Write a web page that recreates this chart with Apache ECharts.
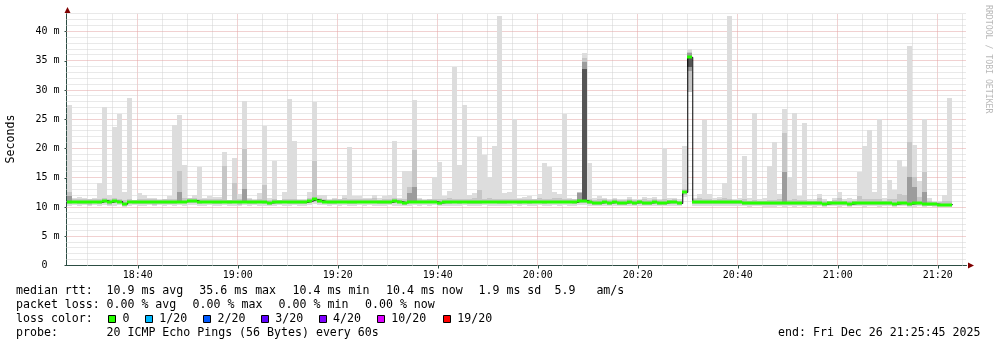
<!DOCTYPE html>
<html><head><meta charset="utf-8">
<script src="https://cdn.jsdelivr.net/npm/echarts@6/dist/echarts.min.js"></script>
<style>html,body{margin:0;padding:0;background:#fff}#c{width:997px;height:347px}</style>
</head><body><div id="c"></div>
<script>
// x values are minutes after 18:00
const axisStart = 25.75;   // 18:25:45
const axisEnd = 205.75;    // 21:25:45
const firstSample = 26;    // 18:26
const stepMinutes = 1;
const yMax = 43.1;

const median = [
10.9,10.9,10.8,10.8,10.8,10.9,10.8,11.1,10.8,11.0,
10.9,10.5,10.9,10.8,10.8,10.8,10.8,10.8,10.8,10.8,
10.8,10.8,10.9,10.9,11.1,11.1,10.8,10.9,10.9,10.8,
10.8,10.9,10.8,10.9,10.8,10.9,10.8,10.8,10.9,10.8,
10.7,10.8,10.8,10.9,10.8,10.8,10.8,10.8,11.0,11.3,
11.1,10.9,10.8,10.8,10.9,10.9,10.8,10.8,10.9,10.9,
10.9,10.9,10.8,10.8,10.8,11.0,10.9,10.7,10.9,10.9,
10.9,10.9,10.9,10.9,10.7,10.8,10.8,10.9,10.8,10.9,
10.8,10.8,10.8,10.9,10.9,10.9,10.8,10.8,10.9,10.9,
10.8,10.9,10.8,10.9,10.9,10.8,10.9,10.9,10.9,10.9,
10.9,10.8,11.1,11.1,10.8,10.7,10.7,10.8,10.7,10.8,
10.7,10.7,10.8,10.7,10.8,10.7,10.7,10.8,10.7,10.7,
10.8,10.8,10.6,12.5,35.6,10.8,10.8,10.8,10.8,10.8,
10.8,10.8,10.8,10.8,10.8,10.7,10.6,10.6,10.7,10.6,
10.6,10.6,10.6,10.7,10.6,10.6,10.7,10.6,10.6,10.6,
10.6,10.5,10.6,10.7,10.6,10.6,10.5,10.6,10.7,10.6,
10.6,10.7,10.6,10.6,10.6,10.5,10.6,10.6,10.5,10.6,
10.6,10.5,10.5,10.5,10.4,10.4,10.4
];
const pingMin = [
10.2,10.3,10.1,10.3,10.1,10.3,10.2,10.3,10.1,10.2,
10.3,10.0,10.2,10.3,10.2,10.2,10.3,10.1,10.3,10.2,
10.3,10.2,10.3,10.2,10.4,10.3,10.2,10.2,10.3,10.1,
10.2,10.3,10.2,10.2,10.1,10.3,10.2,10.3,10.2,10.2,
10.1,10.2,10.3,10.2,10.2,10.3,10.1,10.2,10.4,10.5,
10.4,10.3,10.2,10.3,10.2,10.3,10.2,10.2,10.3,10.2,
10.3,10.2,10.1,10.2,10.3,10.2,10.2,10.1,10.2,10.3,
10.2,10.3,10.2,10.3,10.1,10.2,10.2,10.1,10.2,10.3,
10.2,10.2,10.1,10.3,10.2,10.1,10.2,10.1,10.2,10.3,
10.2,10.3,10.2,10.2,10.3,10.1,10.2,10.3,10.2,10.3,
10.2,10.2,10.4,10.4,10.2,10.1,10.2,10.2,10.1,10.2,
10.1,10.2,10.2,10.1,10.2,10.1,10.2,10.2,10.1,10.1,
10.2,10.2,10.1,11.7,29.6,10.2,10.2,10.1,10.1,10.2,
10.2,10.1,10.2,10.1,10.1,10.1,10.0,10.1,10.1,10.0,
10.0,10.0,10.1,10.0,10.1,10.0,10.1,10.0,10.1,10.0,
10.1,10.0,10.1,10.1,10.0,10.1,10.0,10.1,10.1,10.0,
10.1,10.1,10.0,10.1,10.1,10.0,10.1,10.1,9.9,10.0,
10.1,10.0,10.1,10.0,10.0,10.0,10.0
];
const pingMax = [
27.4,11.5,11.7,11.5,11.3,11.5,14.1,27.1,12.0,23.6,
25.9,12.6,28.6,11.2,12.4,12.0,11.5,11.6,11.3,11.3,
11.9,24.1,25.7,17.1,11.5,12.0,16.9,11.5,11.8,11.7,
11.7,19.4,11.2,18.3,12.3,28.2,11.5,11.3,12.4,23.9,
11.5,17.9,11.2,12.6,28.4,21.2,11.3,11.3,12.6,28.0,
12.0,12.0,11.3,11.5,11.3,12.1,20.2,11.8,11.8,11.5,
11.5,12.1,11.5,11.8,12.1,21.2,11.5,16.1,16.1,28.3,
11.5,11.3,11.3,15.1,17.7,11.8,12.8,33.9,17.1,27.4,
12.0,12.4,22.0,18.9,15.1,20.5,42.7,12.4,12.5,25.0,
11.5,11.7,11.8,11.3,12.3,17.5,16.9,12.6,12.2,25.9,
11.5,11.3,12.6,36.3,17.5,11.5,11.8,11.5,11.3,11.5,
11.3,11.3,11.7,11.3,11.3,11.7,11.5,11.7,11.3,20.1,
11.5,11.5,11.3,20.5,37.0,11.5,12.3,24.9,12.2,11.5,
11.7,14.1,42.7,11.3,11.5,18.7,11.5,26.0,11.3,11.5,
17.0,21.1,12.3,26.7,15.1,26.0,11.9,24.3,11.3,11.3,
12.2,11.3,11.0,11.5,12.6,11.3,11.5,11.3,16.0,20.5,
23.2,12.5,25.0,11.5,14.6,12.9,18.1,16.9,37.6,20.6,
14.4,25.1,11.5,11.0,11.0,12.1,28.7
];
const midLow = [
10.5,10.6,10.5,10.5,10.4,10.6,10.5,10.6,10.4,10.6,
10.6,10.2,10.6,10.5,10.5,10.5,10.5,10.4,10.5,10.5,
10.5,10.5,10.6,10.6,10.7,10.7,10.5,10.6,10.6,10.5,
10.5,10.6,10.5,10.6,10.4,10.6,10.5,10.5,10.6,10.5,
10.4,10.5,10.5,10.6,10.5,10.5,10.5,10.5,10.6,10.8,
10.7,10.6,10.5,10.5,10.6,10.6,10.5,10.5,10.6,10.6,
10.6,10.6,10.5,10.5,10.5,10.6,10.6,10.4,10.6,10.6,
10.6,10.6,10.6,10.6,10.4,10.5,10.5,10.6,10.5,10.6,
10.5,10.5,10.5,10.6,10.6,10.6,10.5,10.5,10.6,10.6,
10.5,10.6,10.5,10.6,10.6,10.5,10.6,10.6,10.6,10.6,
10.6,10.5,10.7,10.7,10.5,10.4,10.4,10.5,10.4,10.5,
10.4,10.4,10.5,10.4,10.5,10.4,10.4,10.5,10.4,10.4,
10.5,10.5,10.3,12.0,29.6,10.5,10.5,10.5,10.5,10.5,
10.5,10.5,10.5,10.5,10.5,10.4,10.3,10.3,10.4,10.3,
10.3,10.3,10.3,10.4,10.3,10.3,10.4,10.3,10.3,10.3,
10.3,10.2,10.3,10.4,10.3,10.3,10.2,10.3,10.4,10.3,
10.3,10.4,10.3,10.3,10.3,10.2,10.3,10.3,10.2,10.3,
10.3,10.2,10.2,10.2,10.1,10.1,10.1
];
const midHigh = [
12.6,11.4,11.3,11.3,11.3,11.4,11.4,11.6,11.3,11.5,
11.4,11.2,11.4,11.2,11.4,11.3,11.3,11.3,11.2,11.3,
11.4,11.3,16.1,11.5,11.6,11.6,11.3,11.3,11.4,11.3,
11.3,17.0,11.2,14.1,11.4,19.9,11.3,11.2,11.4,13.8,
11.2,11.4,11.2,11.4,11.3,11.4,11.2,11.2,11.6,17.9,
11.6,11.4,11.2,11.3,11.3,11.5,11.3,11.3,11.4,11.3,
11.3,11.5,11.2,11.3,11.4,11.5,11.3,11.3,13.4,19.7,
11.3,11.2,11.3,11.4,11.4,11.3,11.5,11.4,11.3,11.4,
11.4,11.5,12.9,11.4,11.5,11.4,11.3,11.4,11.4,11.4,
11.3,11.4,11.4,11.3,11.5,11.3,11.4,11.5,11.5,11.3,
11.4,11.3,12.6,35.5,11.4,11.2,11.3,11.3,11.2,11.3,
11.2,11.2,11.3,11.2,11.2,11.3,11.2,11.3,11.2,11.3,
11.2,11.3,11.1,13.0,36.5,11.3,11.5,11.3,11.4,11.2,
11.3,11.5,11.3,11.2,11.2,11.3,11.1,11.2,11.1,11.1,
11.2,11.2,11.3,22.6,11.2,11.3,11.2,11.2,11.1,11.1,
11.5,11.1,11.0,11.2,11.6,11.1,11.1,11.1,11.9,11.3,
11.4,11.3,11.3,11.1,11.4,11.3,12.3,12.0,21.1,15.1,
11.7,16.0,11.0,10.9,10.8,11.0,11.1
];
// [sample index, low, high]
const darkBands = [
[0,10.6,11.8],[22,10.7,12.5],[35,10.7,13.0],[68,10.7,12.4],[69,10.7,13.5],
[102,10.8,12.4],[103,10.8,34.8],[124,33.3,36.3],[143,10.6,16.0],
[168,10.6,15.1],[169,10.6,13.4],[171,10.5,12.5]
];
const darkestBands = [[103,11.0,33.6],[124,33.9,35.6]];

const xLabelTicks = [40,60,80,100,120,140,160,180,200];
const xGrid = [30,35,40,45,50,55,60,65,70,75,80,85,90,95,100,105,110,115,120,125,130,135,140,145,150,155,160,165,170,175,180,185,190,195,200,205];
const yLabelTicks = [0,5,10,15,20,25,30,35,40];
const yGrid = [1,2,3,4,5,6,7,8,9,10,11,12,13,14,15,16,17,18,19,20,21,22,23,24,25,26,27,28,29,30,31,32,33,34,35,36,37,38,39,40,41,42,43];

const lossColors = ['#26ff00','#00b8ff','#0059ff','#5e00ff','#7e00ff','#dd00ff','#ff0000'];
const lossLabels = ['0','1/20','2/20','3/20','4/20','10/20','19/20'];

const MONO = '"DejaVu Sans Mono", "Liberation Mono", monospace';
const t = i => firstSample + i * stepMinutes;

const rows = (lo, hi) => median.map((_, i) => [t(i), lo[i], hi[i]]);
const bandRows = list => list.map(b => [t(b[0]), b[1], b[2]]);

function bandRender(color) {
  return function (params, api) {
    const x = api.value(0), lo = api.value(1), hi = api.value(2);
    const a = api.coord([x, hi]), b = api.coord([x + stepMinutes, lo]);
    const x0 = Math.floor(a[0]), x1 = Math.floor(b[0]);
    const y0 = Math.round(a[1]), y1 = Math.round(b[1]);
    return { type: 'rect', shape: { x: x0, y: y0, width: x1 - x0, height: Math.max(1, y1 - y0) },
      style: { fill: color } };
  };
}
function band(name, data, color, z) {
  return { type: 'custom', name, data, z, silent: true, renderItem: bandRender(color),
    encode: { x: 0, y: [1, 2] }, animation: false };
}

const gridSeries = {
  type: 'custom', z: 1, silent: true, data: [[axisStart, 0]], animation: false,
  renderItem: function (params, api) {
    const els = [];
    xGrid.forEach(v => {
      const major = xLabelTicks.indexOf(v) >= 0;
      const p0 = api.coord([v, 0]), p1 = api.coord([v, yMax]);
      const x = Math.floor(p0[0]) + 0.5;
      els.push({ type: 'line', shape: { x1: x, y1: p0[1], x2: x, y2: p1[1] },
        style: { stroke: major ? '#e3a3a3' : '#d2d2d2', lineWidth: 1, lineDash: [1, 1] } });
    });
    yGrid.forEach(v => {
      const major = v % 5 === 0;
      const p0 = api.coord([axisStart, v]), p1 = api.coord([axisEnd, v]);
      const y = Math.floor(p0[1]) + 0.5;
      els.push({ type: 'line', shape: { x1: p0[0], y1: y, x2: p1[0], y2: y },
        style: { stroke: major ? '#e3a3a3' : '#d2d2d2', lineWidth: 1, lineDash: [1, 1] } });
    });
    return { type: 'group', children: els };
  }
};

const medianLine = median.map((v, i) => [t(i), v]);
medianLine.push([t(median.length), median[median.length - 1]]);

const greenSeries = {
  type: 'custom', z: 6, silent: true, animation: false,
  data: median.map((v, i) => [t(i), v]),
  encode: { x: 0, y: 1 },
  renderItem: function (params, api) {
    const x = api.value(0), v = api.value(1);
    const a = api.coord([x, v]), b = api.coord([x + stepMinutes, v]);
    const x0 = Math.floor(a[0]), x1 = Math.floor(b[0]);
    return { type: 'rect', shape: { x: x0, y: Math.round(a[1]) - 1.5, width: x1 - x0, height: 3 },
      style: { fill: lossColors[0] } };
  }
};

const chart = echarts.init(document.getElementById('c'), null, { renderer: 'canvas' });

const graphics = [];
const txt = (text, x, y, extra) => graphics.push(Object.assign({ type: 'text', x, y, silent: true,
  style: Object.assign({ text, font: '11.6px ' + MONO, fill: '#000', textAlign: 'left', textVerticalAlign: 'middle' }, extra || {}) }));
txt('median rtt:', 16, 291);
txt('10.9 ms avg', 106.5, 291);
txt('35.6 ms max', 199.3, 291);
txt('10.4 ms min', 292.6, 291);
txt('10.4 ms now', 386, 291);
txt('1.9 ms sd', 478.5, 291);
txt('5.9   am/s', 554.5, 291);
txt('packet loss:', 16, 305);
txt('0.00 % avg', 106.5, 305);
txt('0.00 % max', 192.6, 305);
txt('0.00 % min', 278.6, 305);
txt('0.00 % now', 365, 305);
txt('loss color:', 16, 319);
const boxX = [108.5, 145.5, 203.5, 261.5, 319.5, 377.5, 443.5];
const labX = [122.6, 159.3, 217.6, 275.3, 333, 391.3, 457.3];
lossLabels.forEach((l, k) => {
  graphics.push({ type: 'rect', silent: true, shape: { x: boxX[k], y: 315.5, width: 7, height: 7 },
    style: { fill: lossColors[k], stroke: '#000', lineWidth: 1 } });
  txt(l, labX[k], 319);
});
txt('probe:', 16, 333);
txt('20 ICMP Echo Pings (56 Bytes) every 60s', 106.5, 333);
txt('end: Fri Dec 26 21:25:45 2025', 980.5, 333, { textAlign: 'right' });
graphics.push({ type: 'text', x: 11, y: 139, rotation: Math.PI / 2, silent: true,
  style: { text: 'Seconds', font: '11.6px ' + MONO, fill: '#000', textAlign: 'center', textVerticalAlign: 'middle' } });
graphics.push({ type: 'text', x: 988, y: 5, rotation: -Math.PI / 2, silent: true,
  style: { text: 'RRDTOOL / TOBI OETIKER', font: '8.2px ' + MONO, fill: '#b8b8b8', textAlign: 'left', textVerticalAlign: 'middle' } });
graphics.push({ type: 'polygon', silent: true, shape: { points: [[64.5, 13], [70.5, 13], [67.5, 7]] }, style: { fill: '#7f0000' } });
graphics.push({ type: 'polygon', silent: true, shape: { points: [[968, 262.5], [968, 268.5], [974, 265.5]] }, style: { fill: '#7f0000' } });

chart.setOption({
  animation: false,
  backgroundColor: '#ffffff',
  grid: { left: 66.5, top: 13.4, width: 900, height: 252.1, containLabel: false },
  xAxis: {
    type: 'value', min: axisStart, max: axisEnd,
    axisLine: { show: true, lineStyle: { color: '#2c4d43', width: 1 } },
    axisTick: { show: true, customValues: xLabelTicks, length: 3, lineStyle: { color: '#2c4d43' } },
    axisLabel: { customValues: xLabelTicks, margin: 5, fontFamily: MONO, fontSize: 10, color: '#000',
      formatter: v => { const h = 18 + Math.floor(v / 60), m = Math.round(v % 60); return h + ':' + (m < 10 ? '0' : '') + m; } },
    splitLine: { show: false }
  },
  yAxis: {
    type: 'value', min: 0, max: yMax,
    axisLine: { show: true, lineStyle: { color: '#2c4d43', width: 1 } },
    axisTick: { show: true, customValues: yLabelTicks, length: 2, lineStyle: { color: '#2c4d43' } },
    axisLabel: { customValues: yLabelTicks, margin: 7, fontFamily: MONO, fontSize: 10, color: '#000',
      formatter: v => v === 0 ? '0  ' : v + ' m' },
    splitLine: { show: false }
  },
  graphic: graphics,
  series: [
    gridSeries,
    band('smoke', rows(pingMin, pingMax), '#dddddd', 2),
    band('smoke-mid', rows(midLow, midHigh), '#c6c6c6', 3),
    band('smoke-dark', bandRows(darkBands), '#9c9c9c', 4),
    band('smoke-darkest', bandRows(darkestBands), '#555555', 4),
    { type: 'line', z: 5, data: medianLine, step: 'end', symbol: 'none', silent: true,
      lineStyle: { color: '#000', width: 1 }, animation: false },
    greenSeries
  ]
});
</script>
</body></html>
